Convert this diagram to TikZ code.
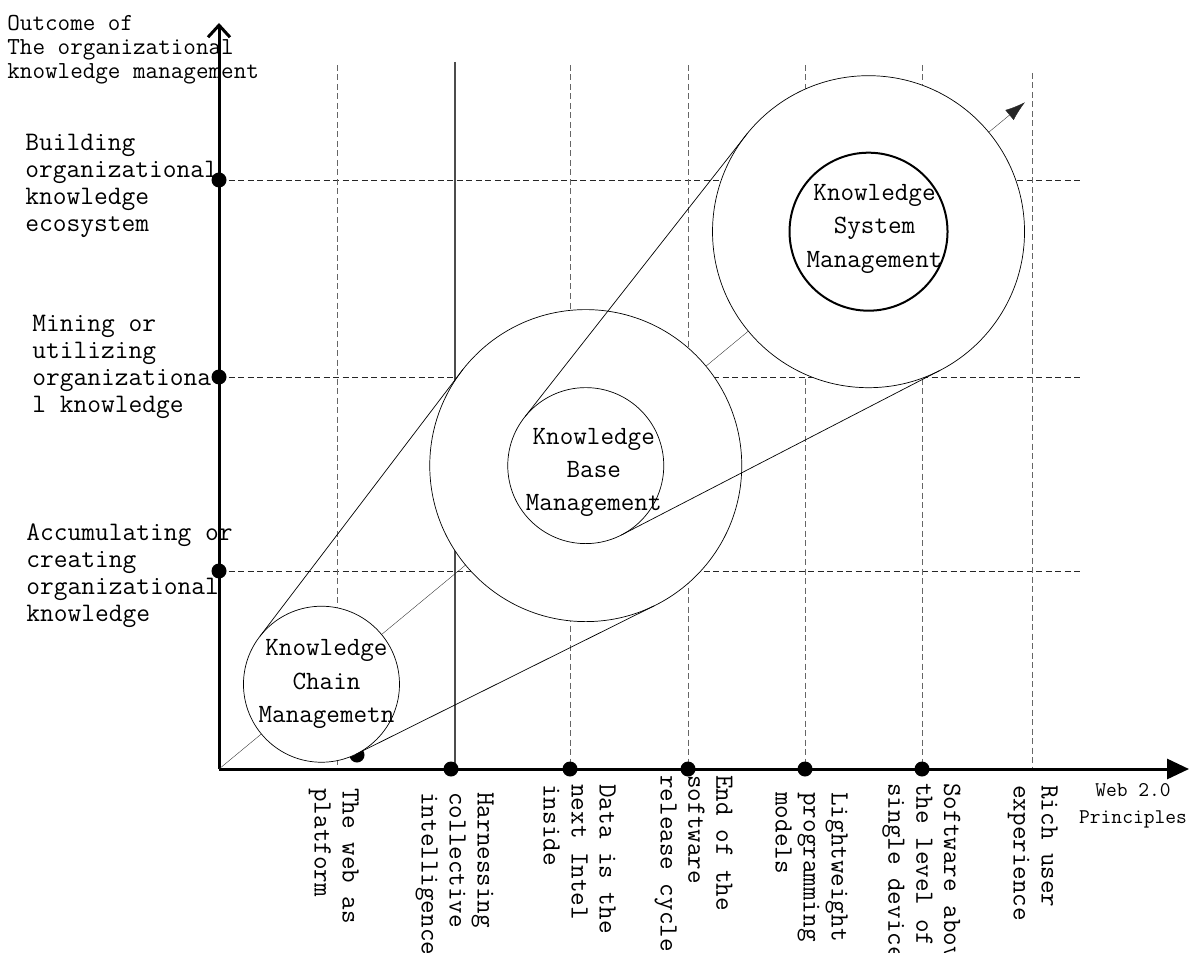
\documentclass[tikz,border=0pt]{standalone}
\usepackage{fontspec}
\usetikzlibrary{calc,arrows.meta}

\begin{document}
\begin{tikzpicture}[x={(0.2mm,0cm)}, y={(0cm,0.2mm)}]
\def\pente{39.6}
%styles
\tikzstyle{textAxis}=[rectangle, text=black, inner sep=0pt, align=left, anchor=north west, font=\ttfamily\fontsize{15.2}{15.4}\selectfont]
\tikzstyle{textPrinc}=[textAxis, rotate=-90, font=\ttfamily\fontsize{15}{15.9}\selectfont]
\tikzstyle{textKM}=[rectangle, text=black, inner sep=0pt, align=center, font=\ttfamily\fontsize{15}{18.95}\selectfont]
\tikzstyle{pointx}=[circle, fill, inner sep=0pt, minimum size=3mm]
\tikzstyle{ring}=[circle, draw, fill=white, inner sep=0pt, outer sep=0pt, thin]
\tikzstyle{gridline}=[black!60, thin, dash pattern=on 1.2mm off 0.7mm]
\tikzstyle{axis}=[line width=0.6mm]

\useasboundingbox (0,0) rectangle (1190,952);

%grid
\foreach \y in {772,575,381} \draw[gridline, black!85] (219,\y) -- (1080,\y);
\foreach \x in {337,570,688,805,922} \draw[gridline] (\x,887) -- (\x,183);
\draw[gridline] (1032,879) -- (1032,183);
\draw[black!70, line width=0.3mm] (455,890) -- (455,183);

%axes
\coordinate (O) at (219,183);
\coordinate (ytop) at (219,929);
\coordinate (xend) at (1189,183);
\draw[axis, -{Straight Barb[length=2.4mm,width=4.4mm]}] (O) -- (ytop);
\draw[axis, -{Triangle[length=4.4mm,width=4mm]}] (O) -- (xend);

%direction of growth
\coordinate (tip) at ($(O)+(\pente:1046)$);
\draw[very thin, black!85, -{Latex[length=4mm,width=2.6mm]}] (O) -- (tip);

%ticks
\node[pointx] (b1) at (219,772) {};
\node[pointx] (b2) at (219,575) {};
\node[pointx] (b3) at (219,381) {};
\node[pointx] (p1) at (357,197) {};
\foreach \x/\n in {451/2,570/3,688/4,805/5,922/6} \node[pointx] (p\n) at (\x,183) {};

%circles
\node[ring, minimum size=31.2mm] (kcm) at ($(O)+(\pente:133)$) {};
\node[ring, minimum size=62.4mm] (kbmout) at ($(O)+(\pente:476)$) {};
\node[ring, minimum size=31.2mm] (kbm) at (kbmout) {};
\node[ring, minimum size=62.4mm] (ksmout) at ($(O)+(\pente:843)$) {};
\node[ring, line width=0.4mm, minimum size=31.6mm] (ksm) at (ksmout) {};

%tangent lines
\pgfmathsetmacro\angA{\pente+90+asin(78/343)}
\pgfmathsetmacro\angB{\pente+270-asin(78/343)}
\pgfmathsetmacro\angC{\pente+90+asin(78/367)}
\pgfmathsetmacro\angD{\pente+270-asin(78/367)}
\draw (kcm.\angA) -- (kbmout.\angA);
\draw (kcm.\angB) -- (kbmout.\angB);
\draw (kbm.\angC) -- (ksmout.\angC);
\draw (kbm.\angD) -- (ksmout.\angD);

%texts
\node[textKM] (kcmText) at ($(kcm)+(5,0)$) {Knowledge\\Chain\\Managemetn};
\node[textKM] (kbmText) at ($(kbm)+(8,-7)$) {Knowledge\\Base\\Management};
\node[textKM] (ksmText) at ($(ksm)+(6,3)$) {Knowledge\\System\\Management};

\node[textAxis, font=\ttfamily\fontsize{13.9}{13.7}\selectfont] (yTitle) at (7,937) {Outcome of\\The organizational\\knowledge management};
\node[textAxis] (yBuild) at (25,818) {Building\\organizational\\knowledge\\ecosystem};
\node[textAxis] (yMine) at (32,637) {Mining or\\utilizing\\organizationa\\l knowledge};
\node[textAxis] (yAccu) at (26,429) {Accumulating or\\creating\\organizational\\knowledge};

\node[textPrinc] (xWeb) at (359,164) {The web as\\platform};
\node[textPrinc] (xHarn) at (494,160) {Harnessing\\collective\\intelligence};
\node[textPrinc] (xData) at (616,168) {Data is the\\next Intel\\inside};
\node[textPrinc] (xEnd) at (733,177) {End of the\\software\\release cycle};
\node[textPrinc] (xLight) at (848,160) {Lightweight\\programming\\models};
\node[textPrinc] (xSoft) at (961,169) {Software above\\the level of a\\single device};
\node[textPrinc] (xRich) at (1058,167) {Rich user\\experience};
\node[textKM, font=\ttfamily\fontsize{11.9}{15.4}\selectfont] (xTitle) at (1133,146) {Web 2.0\\Principles};
\end{tikzpicture}
\end{document}
